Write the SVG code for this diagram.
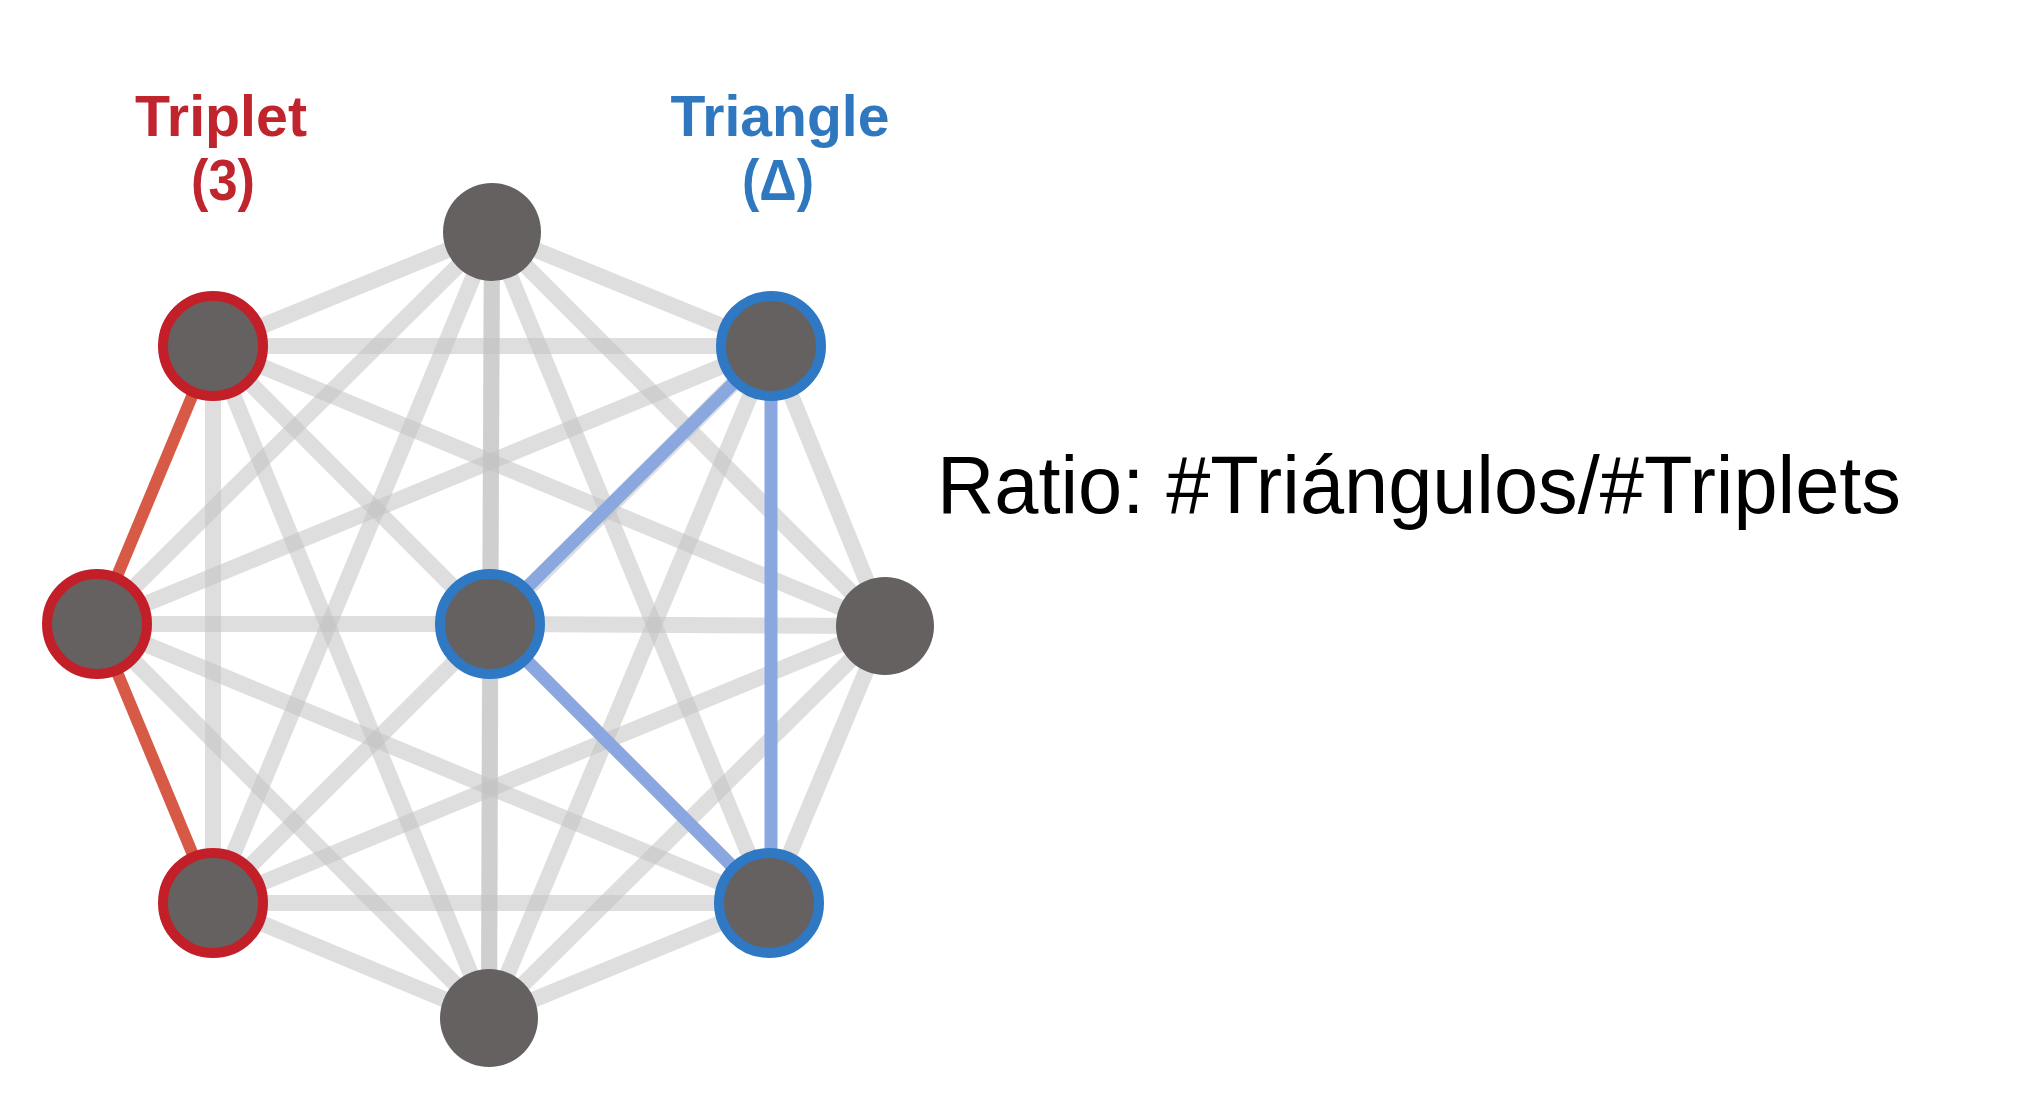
<svg xmlns="http://www.w3.org/2000/svg" width="2035" height="1104" viewBox="0 0 2035 1104">
<style>
.e{stroke:#c2c2c2;stroke-opacity:0.55;stroke-width:16;stroke-linecap:butt}
.r{stroke:#d65a46;stroke-width:12}
.b{stroke:#8aa7e0;stroke-width:13}
.n{fill:#656161}
.nr{fill:#656161;stroke:#c21f28;stroke-width:10}
.nb{fill:#656161;stroke:#2f79c4;stroke-width:10}
.lab{font-family:"Liberation Sans",Arial,sans-serif;font-weight:bold;font-size:58px;text-anchor:middle}
</style>
<rect width="2035" height="1104" fill="#ffffff"/>
<g id="connectors">
<line class="e" x1="492" y1="232" x2="213" y2="346"/>
<line class="e" x1="492" y1="232" x2="771" y2="346"/>
<line class="e" x1="492" y1="232" x2="97" y2="624"/>
<line class="e" x1="492" y1="232" x2="490" y2="624"/>
<line class="e" x1="492" y1="232" x2="885" y2="626"/>
<line class="e" x1="492" y1="232" x2="213" y2="903"/>
<line class="e" x1="492" y1="232" x2="769" y2="903"/>
<line class="e" x1="492" y1="232" x2="489" y2="1018"/>
<line class="e" x1="213" y1="346" x2="771" y2="346"/>
<line class="e" x1="213" y1="346" x2="490" y2="624"/>
<line class="e" x1="213" y1="346" x2="885" y2="626"/>
<line class="e" x1="213" y1="346" x2="213" y2="903"/>
<line class="e" x1="213" y1="346" x2="489" y2="1018"/>
<line class="e" x1="771" y1="346" x2="97" y2="624"/>
<line class="e" x1="771" y1="346" x2="885" y2="626"/>
<line class="e" x1="771" y1="346" x2="213" y2="903"/>
<line class="e" x1="771" y1="346" x2="489" y2="1018"/>
<line class="e" x1="97" y1="624" x2="490" y2="624"/>
<line class="e" x1="490" y1="624" x2="885" y2="626"/>
<line class="e" x1="97" y1="624" x2="769" y2="903"/>
<line class="e" x1="97" y1="624" x2="489" y2="1018"/>
<line class="e" x1="490" y1="624" x2="489" y2="1018"/>
<line class="e" x1="885" y1="626" x2="213" y2="903"/>
<line class="e" x1="885" y1="626" x2="769" y2="903"/>
<line class="e" x1="885" y1="626" x2="489" y2="1018"/>
<line class="e" x1="213" y1="903" x2="769" y2="903"/>
<line class="e" x1="213" y1="903" x2="489" y2="1018"/>
<line class="e" x1="769" y1="903" x2="489" y2="1018"/>
<line class="r" x1="213" y1="346" x2="97" y2="624"/>
<line class="r" x1="97" y1="624" x2="213" y2="903"/>
<line class="b" x1="771" y1="346" x2="490" y2="624"/>
<line class="b" x1="490" y1="624" x2="769" y2="903"/>
<line class="b" x1="771" y1="346" x2="771" y2="903"/>
</g>
<g id="node-top"><circle class="n" cx="492" cy="232" r="49"/></g>
<g id="node-tl"><circle class="nr" cx="213" cy="346" r="50"/></g>
<g id="node-tr"><circle class="nb" cx="771" cy="346" r="50"/></g>
<g id="node-l"><circle class="nr" cx="97" cy="624" r="50"/></g>
<g id="node-c"><circle class="nb" cx="490" cy="624" r="50"/></g>
<g id="node-r"><circle class="n" cx="885" cy="626" r="49"/></g>
<g id="node-bl"><circle class="nr" cx="213" cy="903" r="50"/></g>
<g id="node-br"><circle class="nb" cx="769" cy="903" r="50"/></g>
<g id="node-bottom"><circle class="n" cx="489" cy="1018" r="49"/></g>
<g id="label-triplet" fill="#c0252d">
<text class="lab" x="221" y="136" textLength="172" lengthAdjust="spacingAndGlyphs">Triplet</text>
<text class="lab" x="223" y="200" textLength="64" lengthAdjust="spacingAndGlyphs">(3)</text>
</g>
<g id="label-triangle" fill="#2f78c0">
<text class="lab" x="780" y="136" textLength="219" lengthAdjust="spacingAndGlyphs">Triangle</text>
<text class="lab" x="778" y="200" textLength="72" lengthAdjust="spacingAndGlyphs">(Δ)</text>
</g>
<g id="ratio">
<text x="937" y="513" font-family="'Liberation Sans Narrow','Liberation Sans',Arial,sans-serif" font-size="82" fill="#000" textLength="964" lengthAdjust="spacingAndGlyphs">Ratio: #Triángulos/#Triplets</text>
</g>
</svg>
